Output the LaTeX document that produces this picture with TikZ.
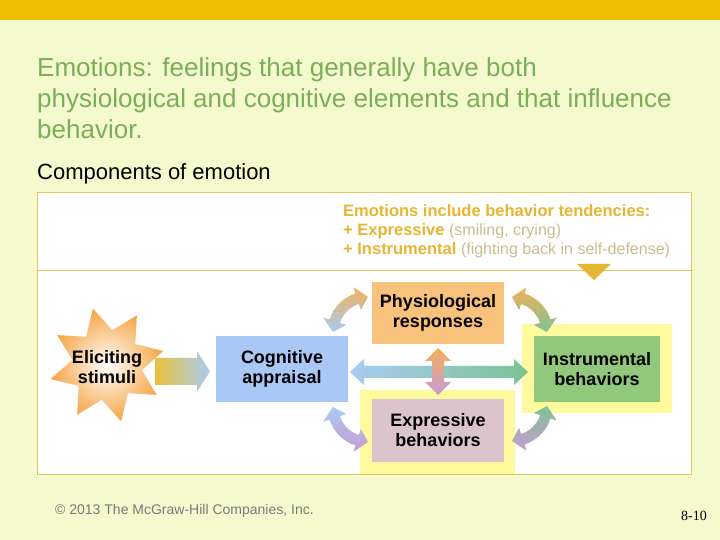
\documentclass[tikz,border=0pt]{standalone}
\usepackage{fontspec}
\setmainfont{Liberation Sans}
\newfontfamily\serifnum{Liberation Serif}
\usetikzlibrary{shapes.geometric}
\definecolor{bgc}{HTML}{F4F9CE}
\definecolor{barc}{HTML}{F0BE00}
\definecolor{titlec}{HTML}{7BAF57}
\definecolor{framec}{HTML}{E6C65A}
\definecolor{hdrc}{HTML}{E6B532}
\definecolor{parc}{HTML}{C9BD8C}
\definecolor{cogc}{HTML}{A9C8F6}
\definecolor{physc}{HTML}{F8C27C}
\definecolor{instc}{HTML}{92C87C}
\definecolor{exprc}{HTML}{DCC4CC}
\definecolor{yelc}{HTML}{FFFA9E}
\definecolor{arrblue}{HTML}{A8CBF3}
\definecolor{arrorange}{HTML}{F3B058}
\definecolor{arrgreen}{HTML}{7CC393}
\definecolor{arrpurple}{HTML}{C99BD2}
\definecolor{arrgold}{HTML}{E9C13C}
\definecolor{starc}{HTML}{F6A646}
\definecolor{footc}{HTML}{7A7A7A}
\newcommand\curvarrow[7]{%
  \begin{scope}[shift={(#1,#2)}]
  \shade[top color=#6, bottom color=#7]
    ({#4+18}:{#3+5.5}) arc[start angle={#4+18}, end angle={#5-18}, radius={#3+5.5}]
    -- ({#5-18}:{#3+12}) -- (#5:#3) -- ({#5-18}:{#3-12}) -- ({#5-18}:{#3-5.5})
    arc[start angle={#5-18}, end angle={#4+18}, radius={#3-5.5}]
    -- ({#4+18}:{#3-12}) -- (#4:#3) -- ({#4+18}:{#3+12}) -- cycle;
  \end{scope}}
\tikzset{
  titletxt/.style={anchor=base west, inner sep=0pt, text=titlec, font=\fontsize{26}{30}\selectfont},
  hdrtxt/.style={anchor=base west, inner sep=0pt, text=hdrc, font=\bfseries\fontsize{16.5}{19}\selectfont},
  boxtxt/.style={align=center, inner sep=0pt, outer sep=0pt, font=\bfseries\fontsize{18}{20}\selectfont},
  yelbox/.style={fill=yelc, inner sep=0pt, outer sep=0pt},
}
\begin{document}
\begin{tikzpicture}[x=1pt,y=1pt]
\useasboundingbox (0,0) rectangle (720,540);
\fill[bgc] (0,0) rectangle (720,540);
\fill[barc] (0,520) rectangle (720,540);
% title
\node[titletxt] (t1) at (37,463) {Emotions: feelings that generally have both};
\node[titletxt] (t2) at (37,432) {physiological and cognitive elements and that influence};
\node[titletxt] (t3) at (37,401) {behavior.};
\node[anchor=base west, inner sep=0pt, font=\fontsize{22}{25}\selectfont] (comp) at (37,360) {Components of emotion};
% frame
\node[draw=framec, fill=white, line width=0.8pt, minimum width=654pt, minimum height=282pt, inner sep=0pt] (frame) at (364,207) {};
\draw[framec, line width=0.8pt] (frame.west |- 0,270) -- (frame.east |- 0,270);
% header
\node[hdrtxt] (h1) at (343,323) {Emotions include behavior tendencies:};
\node[hdrtxt] (h2) at (343,304) {+ Expressive {\mdseries\fontsize{16}{18}\selectfont\color{parc}(smiling, crying)}};
\node[hdrtxt] (h3) at (343,285) {+ Instrumental {\mdseries\fontsize{16}{18}\selectfont\color{parc}(fighting back in self-defense)}};
\fill[hdrc] (577,276) -- (611,276) -- (594,260) -- cycle;
% yellow surrounds
\node[yelbox, minimum width=150pt, minimum height=89pt] (insty) at (597,171.5) {};
\node[yelbox, minimum width=155pt, minimum height=84pt] (expry) at (437.5,108) {};
% boxes
\node[boxtxt, fill=cogc, minimum width=132pt, minimum height=66pt] (cog) at (282,171) {Cognitive\\appraisal};
\node[boxtxt, fill=physc, minimum width=132pt, minimum height=62pt] (phys) at (438,227) {Physiological\\responses};
\node[boxtxt, fill=instc, minimum width=126pt, minimum height=66pt] (inst) at (597,171) {Instrumental\\behaviors};
\node[boxtxt, fill=exprc, minimum width=132pt, minimum height=63pt] (expr) at (438,109.5) {Expressive\\behaviors};
% star
\node[star, star points=8, star point ratio=1.65, minimum size=116pt, shape border rotate=14, inner sep=0pt,
      inner color=white, outer color=starc, draw=none] (star) at (107,175) {};
\node[boxtxt] (elic) at (107,172.5) {Eliciting\\stimuli};
% star -> cognitive arrow
\shade[left color=arrgold, right color=arrblue]
  (155,182) -- (197,182) -- (197,189) -- (210,168.5) -- (197,148) -- (197,155) -- (155,155) -- cycle;
% horizontal double arrow
\shade[left color=arrblue, right color=arrgreen]
  (350,168) -- (364,181) -- (364,174) -- (514,174) -- (514,181) -- (528,168)
  -- (514,155) -- (514,162) -- (364,162) -- (364,155) -- cycle;
% vertical double arrow
\shade[top color=arrorange, bottom color=arrpurple]
  (438,192) -- (451,179) -- (444,179) -- (444,158) -- (451,158) -- (438,145)
  -- (425,158) -- (432,158) -- (432,179) -- (425,179) -- cycle;
% curved arrows
\curvarrow{368}{208}{35}{90}{180}{arrorange}{arrblue}
\curvarrow{512}{208}{35}{0}{90}{arrorange}{arrgreen}
\curvarrow{368}{133}{35}{180}{270}{arrblue}{arrpurple}
\curvarrow{512}{134}{35}{270}{360}{arrgreen}{arrpurple}
% footer
\node[anchor=base west, inner sep=0pt, text=footc, font=\fontsize{14}{16}\selectfont] (copy) at (55,25) {\textcopyright\ 2013 The McGraw-Hill Companies, Inc.};
\node[anchor=base east, inner sep=0pt, font=\serifnum\fontsize{14}{16}\selectfont] (pg) at (707,19) {8-10};
\end{tikzpicture}
\end{document}
